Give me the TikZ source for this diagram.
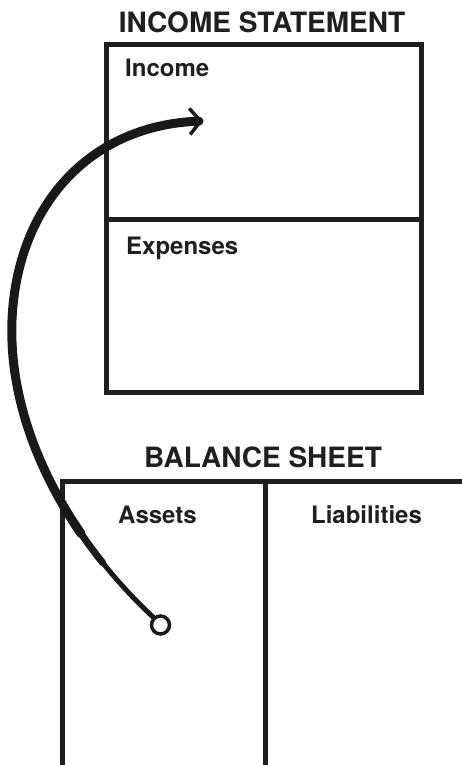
\documentclass[tikz,border=0pt]{standalone}
\usepackage{fontspec}
\setmainfont{TeX Gyre Heros}
\usetikzlibrary{arrows.meta}
\begin{document}
\begin{tikzpicture}[x=1pt,y=-1pt,
  frame/.style={line width=5pt, draw=black!88, line join=miter},
  title/.style={font=\bfseries\fontsize{28}{30}\selectfont, text=black!88, anchor=base, inner sep=0pt},
  lab/.style={font=\bfseries\fontsize{24}{26}\selectfont, text=black!88, inner sep=0pt},
  thinstroke/.style={line width=5pt, draw=black!90, line cap=round, line join=round},
  midstroke/.style={line width=7pt, draw=black!90, line cap=round, line join=round},
  thickstroke/.style={line width=9pt, draw=black!90, line cap=round, line join=round},
  ring/.style={circle, draw=black!90, line width=3.5pt, minimum size=18pt, inner sep=0pt, fill=white}
]
\useasboundingbox (0,0) rectangle (462,765);

% Income statement
\node[title] (ist) at (262,33) {INCOME STATEMENT};
\draw[frame] (106,45) rectangle (421,392);
\draw[frame] (106,219) -- (421,219);
\node[lab, anchor=base west] (inc) at (125,77) {Income};
\node[lab, anchor=base west] (exp) at (126,254) {Expenses};

% Balance sheet
\node[title] (bs) at (263,467) {BALANCE SHEET};
\draw[frame] (62,767) -- (62,481.5) -- (464,481.5);
\draw[frame] (265.5,481.5) -- (265.5,767);
\node[lab, anchor=base] (ast) at (157.5,523) {Assets};
\node[lab, anchor=base] (lia) at (366.5,523) {Liabilities};

% Arrow (tapered by layering)
\coordinate (start) at (153,617);
\coordinate (s) at (102.75,562.8);
\coordinate (s3) at (81.12,533.7);
\coordinate (m) at (12,320);
\coordinate (tip) at (203,121);
\draw[thinstroke] (start) .. controls (135.2,600.4) and (118.08,581.92) .. (s);
\draw[midstroke] (s) .. controls (41.44,486.4) and (8.8,400) .. (m);
\draw[thickstroke, -{Straight Barb[length=11pt,width=26pt,line width=3.5pt]}]
  (s3) .. controls (33.84,464.9) and (9.2,390) .. (m)
      .. controls (17,205) and (90,125) .. (tip);
\node[ring] (o) at (160.5,625) {};
\end{tikzpicture}
\end{document}
